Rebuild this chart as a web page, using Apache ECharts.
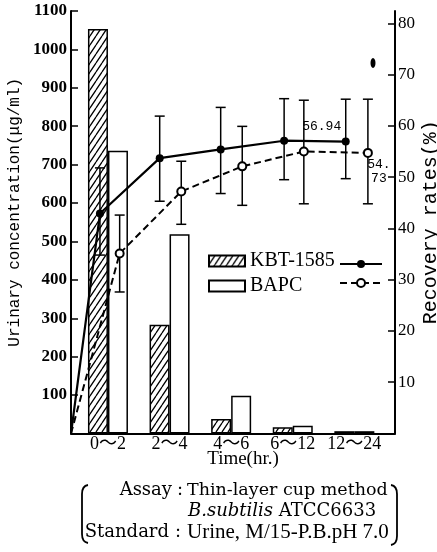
<!DOCTYPE html>
<html>
<head>
<meta charset="utf-8">
<script src="https://cdn.jsdelivr.net/npm/echarts@6.0.0/dist/echarts.min.js"></script>
<style>
  html, body { margin: 0; padding: 0; background: #fff; }
  #main { width: 437px; height: 552px; }
</style>
</head>
<body>
<div id="main"></div>
<script>
  // urinary concentration (μg/ml), per collection period
  const timeLabels = ['0～2', '2～4', '4～6', '6～12', '12～24']
  const kbtConc = [1053, 283, 38, 16, 6]
  const bapcConc = [736, 519, 98, 20, 6]

  // cumulative recovery (%), x read as position along the period axis
  const kbtPos = [-0.13, 0.84, 1.83, 2.86, 3.86]
  const kbtRate = [42.9, 53.7, 55.4, 57.1, 56.94]
  const kbtLow = [34.8, 45.3, 46.8, 49.5, 49.7]
  const kbtHigh = [51.8, 61.9, 63.6, 65.3, 65.2]

  const bapcPos = [0.19, 1.19, 2.18, 3.18, 4.22]
  const bapcRate = [35.1, 47.2, 52.1, 55.0, 54.73]
  const bapcLow = [27.6, 40.8, 44.5, 44.8, 44.8]
  const bapcHigh = [42.6, 53.1, 59.9, 65.0, 65.2]

  const rateTicks = [10, 20, 30, 40, 50, 60, 70, 80]

  const X_MIN = -0.6
  const X_MAX = 4.66
  const SERIF = "'Liberation Serif', 'Noto Sans CJK JP', serif"
  const WIDE_SERIF = "'DejaVu Serif', serif"
  const MONO = "'Liberation Mono', 'DejaVu Sans Mono', monospace"

  function makeHatch () {
    let w = 6
    let h = 9
    let c = document.createElement('canvas')
    c.width = w
    c.height = h
    let ctx = c.getContext('2d')
    ctx.fillStyle = '#fff'
    ctx.fillRect(0, 0, w, h)
    ctx.strokeStyle = '#000'
    ctx.lineWidth = 1.3
    ctx.beginPath()
    for (let k = -1; k <= 1; k++) {
      ctx.moveTo(k * w, h)
      ctx.lineTo(k * w + w, 0)
    }
    ctx.stroke()
    return c
  }

  function errorSeries (pos, low, high) {
    return {
      type: 'custom',
      yAxisIndex: 1,
      z: 3,
      silent: true,
      data: pos.map((x, i) => [x, low[i], high[i]]),
      encode: { x: 0, y: [1, 2] },
      renderItem: (params, api) => {
        let top = api.coord([api.value(0), api.value(2)])
        let bottom = api.coord([api.value(0), api.value(1)])
        let hw = 5
        let style = { stroke: '#000', lineWidth: 1.5 }
        return {
          type: 'group',
          children: [
            { type: 'line', shape: { x1: top[0], y1: top[1], x2: bottom[0], y2: bottom[1] }, style: style },
            { type: 'line', shape: { x1: top[0] - hw, y1: top[1], x2: top[0] + hw, y2: top[1] }, style: style },
            { type: 'line', shape: { x1: bottom[0] - hw, y1: bottom[1], x2: bottom[0] + hw, y2: bottom[1] }, style: style }
          ]
        }
      }
    }
  }

  function rateData (pos, rate, label) {
    let data = [{ value: [X_MIN, 0], symbol: 'none' }]
    pos.forEach((x, i) => {
      let item = { value: [x, rate[i]] }
      if (i === pos.length - 1) item.label = label
      data.push(item)
    })
    return data
  }

  // bracket round the assay note: top hook, stem, bottom hook
  function bracket (xStem, xEnd, yTop, yBottom) {
    let style = { fill: null, stroke: '#000', lineWidth: 1.8 }
    return [
      { type: 'bezierCurve', shape: { x1: xEnd, y1: yTop, x2: xStem, y2: yTop + 9, cpx1: xStem, cpy1: yTop + 1 }, style: style },
      { type: 'line', shape: { x1: xStem, y1: yTop + 9, x2: xStem, y2: yBottom - 9 }, style: style },
      { type: 'bezierCurve', shape: { x1: xStem, y1: yBottom - 9, x2: xEnd, y2: yBottom, cpx1: xStem, cpy1: yBottom - 1 }, style: style }
    ]
  }

  function noteText (x, y, text, font, size, align) {
    return {
      type: 'text',
      x: x,
      y: y,
      style: {
        text: text,
        fontFamily: font,
        fontSize: size,
        fill: '#000',
        align: align,
        verticalAlign: 'middle',
        rich: { i: { fontFamily: font, fontSize: size, fontStyle: 'italic', fill: '#000' } }
      }
    }
  }

  function getOptions () {
    let hatch = makeHatch()
    return {
      animation: false,
      grid: { left: 71, right: 42, top: 11, bottom: 118.5, outerBoundsMode: 'none', containLabel: false },
      legend: [{
        data: ['KBT-1585', 'BAPC'],
        orient: 'vertical',
        left: 203,
        top: 245,
        itemWidth: 36,
        itemHeight: 11,
        itemGap: 3,
        icon: 'rect',
        selectedMode: false,
        textStyle: { fontFamily: SERIF, fontSize: 20, color: '#000', lineHeight: 20, padding: [2, 0, 0, 0] }
      }, {
        data: ['KBT-1585 rate', 'BAPC rate'],
        orient: 'vertical',
        left: 334,
        top: 254,
        itemWidth: 42,
        itemHeight: 10,
        itemGap: 10,
        selectedMode: false,
        formatter: () => '',
        textStyle: { fontSize: 10 }
      }],
      xAxis: [{
        type: 'value',
        min: X_MIN,
        max: X_MAX,
        name: 'Time(hr.)',
        nameLocation: 'middle',
        nameGap: 16,
        nameMoveOverlap: false,
        nameTextStyle: { fontFamily: SERIF, fontSize: 19, color: '#000', padding: [0, 0, 0, 20] },
        axisLine: { onZero: false, lineStyle: { color: '#000', width: 2 } },
        axisTick: { show: false },
        splitLine: { show: false },
        axisLabel: {
          customValues: [0, 1, 2, 3, 4],
          formatter: v => timeLabels[Math.round(v)],
          fontFamily: SERIF,
          fontSize: 18,
          color: '#000',
          margin: 2
        }
      }],
      yAxis: [{
        type: 'value',
        min: 0,
        max: 1100,
        interval: 100,
        name: 'Urinary concentration(μg/ml)',
        nameLocation: 'middle',
        nameRotate: 90,
        nameGap: 48,
        nameMoveOverlap: false,
        nameTextStyle: { fontFamily: MONO, fontSize: 16, color: '#000', padding: [0, 0, 0, 20] },
        axisLine: { show: true, onZero: false, lineStyle: { color: '#000', width: 2 } },
        axisTick: { show: true, inside: true, length: 7, lineStyle: { color: '#000', width: 1.5 } },
        splitLine: { show: false },
        axisLabel: {
          formatter: v => (v === 0 ? '' : String(v)),
          fontFamily: SERIF,
          fontWeight: 'bold',
          fontSize: 17,
          color: '#000',
          margin: 4
        }
      }, {
        type: 'value',
        min: 0,
        max: 82.4,
        position: 'right',
        name: 'Recovery rates(%)',
        nameLocation: 'middle',
        nameRotate: 90,
        nameGap: 26,
        nameMoveOverlap: false,
        nameTextStyle: { fontFamily: MONO, fontSize: 20, color: '#000' },
        axisLine: { show: true, onZero: false, lineStyle: { color: '#000', width: 2 } },
        axisTick: { show: true, inside: true, length: 7, customValues: rateTicks, lineStyle: { color: '#000', width: 1.5 } },
        splitLine: { show: false },
        axisLabel: {
          customValues: rateTicks,
          formatter: v => String(v),
          fontFamily: SERIF,
          fontSize: 17,
          color: '#000',
          margin: 3
        }
      }],
      series: [{
        name: 'KBT-1585',
        type: 'bar',
        barWidth: 20,
        barGap: '0%',
        z: 2,
        itemStyle: { color: { image: hatch, repeat: 'repeat' }, borderColor: '#000', borderWidth: 1.5 },
        data: kbtConc.map((v, i) => [i, v])
      }, {
        name: 'BAPC',
        type: 'bar',
        barWidth: 20,
        barGap: '0%',
        z: 2,
        itemStyle: { color: '#fff', borderColor: '#000', borderWidth: 1.5 },
        data: bapcConc.map((v, i) => [i, v])
      },
      errorSeries(kbtPos, kbtLow, kbtHigh),
      errorSeries(bapcPos, bapcLow, bapcHigh),
      {
        name: 'KBT-1585 rate',
        type: 'line',
        yAxisIndex: 1,
        z: 4,
        symbol: 'circle',
        symbolSize: 8,
        itemStyle: { color: '#000' },
        lineStyle: { color: '#000', width: 2.2 },
        data: rateData(kbtPos, kbtRate, {
          show: true,
          position: 'top',
          distance: 4,
          offset: [-24, 0],
          formatter: p => String(p.value[1]),
          fontFamily: MONO,
          fontSize: 13,
          color: '#000'
        })
      }, {
        name: 'BAPC rate',
        type: 'line',
        yAxisIndex: 1,
        z: 4,
        symbol: 'emptyCircle',
        symbolSize: 8,
        itemStyle: { color: '#000', borderWidth: 1.5 },
        lineStyle: { color: '#000', width: 2, type: [7, 4] },
        data: rateData(bapcPos, bapcRate, {
          show: true,
          position: 'bottom',
          distance: 0,
          offset: [11, 0],
          formatter: p => String(p.value[1]).replace('.', '.\n'),
          fontFamily: MONO,
          fontSize: 13,
          lineHeight: 14,
          color: '#000'
        })
      }],
      graphic: [
        { type: 'ellipse', shape: { cx: 373, cy: 63, rx: 2.5, ry: 5 }, style: { fill: '#000' } },
        noteText(172, 490, 'Assay', WIDE_SERIF, 18, 'right'),
        noteText(180, 490, ':', WIDE_SERIF, 18, 'center'),
        noteText(187, 490, 'Thin-layer cup method', WIDE_SERIF, 17.5, 'left'),
        noteText(188, 511, '{i|B.subtilis} ATCC6633', WIDE_SERIF, 18, 'left'),
        noteText(169, 532, 'Standard', WIDE_SERIF, 18, 'right'),
        noteText(178, 532, ':', WIDE_SERIF, 18, 'center'),
        noteText(187, 532, 'Urine, M/15-P.B.pH 7.0', SERIF, 21, 'left')
      ].concat(bracket(82, 88, 485, 543), bracket(397, 391, 485, 545))
    }
  }

  function initChart () {
    let chart = echarts.init(document.getElementById('main'))
    chart.setOption(getOptions())
  }

  initChart()
</script>
</body>
</html>
